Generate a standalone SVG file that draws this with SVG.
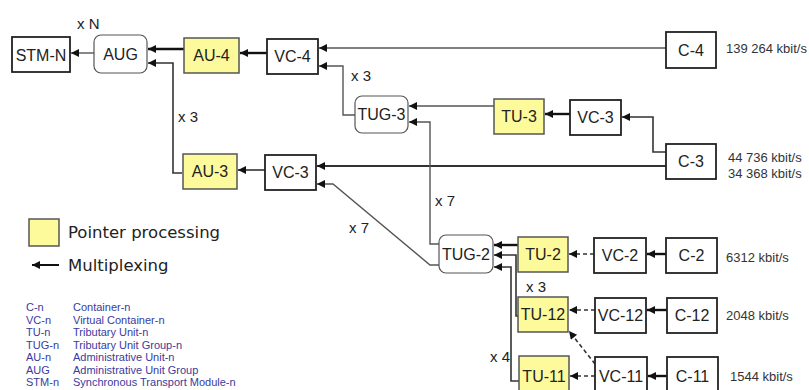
<svg xmlns="http://www.w3.org/2000/svg" width="809" height="390" viewBox="0 0 809 390">
<defs>
<marker id="ah" viewBox="0 0 10 10" refX="10" refY="5" markerWidth="10" markerHeight="8" markerUnits="userSpaceOnUse" orient="auto">
<path d="M0,0 L10,5 L0,10 z" fill="#111"/>
</marker>
</defs>
<style>
.box{fill:#fff;stroke:#222;stroke-width:1.8}
.rbox{fill:#fff;stroke:#555;stroke-width:1.2}
.ybox{fill:#fdfa9c;stroke:#555;stroke-width:1.5}
.lbl{font-family:"Liberation Sans",Arial,sans-serif;font-size:16px;fill:#222;text-anchor:middle;dominant-baseline:central}
.mul{font-family:"Liberation Sans",Arial,sans-serif;font-size:15px;fill:#222;dominant-baseline:central}
.rate{font-family:"Liberation Sans",Arial,sans-serif;font-size:13px;fill:#333;dominant-baseline:central}
.leg{font-family:"DejaVu Sans",Verdana,sans-serif;font-size:16.5px;fill:#222;dominant-baseline:central}
.abbr{font-family:"Liberation Sans",Arial,sans-serif;font-size:11px;fill:#3a3aa0;dominant-baseline:central}
.c{fill:none;stroke:#333;stroke-width:1.6;marker-end:url(#ah)}
.t{stroke:#111;stroke-width:2.4}
.g{stroke:#555;stroke-width:1.4}
.d{stroke-dasharray:4,3}
</style>
<g id="connectors">
<line class="c g" x1="94" y1="53" x2="71" y2="53"/>
<line class="c t" x1="184" y1="49" x2="148" y2="49"/>
<path class="c" d="M182,173 H173 V63 H148"/>
<line class="c t" x1="267" y1="53" x2="240" y2="53"/>
<line class="c g" x1="666" y1="48" x2="319" y2="48"/>
<path class="c g" d="M355,115 H343 V66 H319"/>
<line class="c g" x1="494" y1="106" x2="409" y2="106"/>
<line class="c t" x1="570" y1="114" x2="545" y2="114"/>
<path class="c" d="M666,152 H653 V117 H622"/>
<line class="c" x1="666" y1="166" x2="317" y2="166" style="stroke-width:2"/>
<line class="c" x1="265" y1="170" x2="238" y2="170"/>
<path class="c g" d="M440,265 H430 L333,184 H317"/>
<path class="c g" d="M440,244 H430 V122 H409"/>
<line class="c t" x1="518" y1="245" x2="494" y2="245"/>
<path class="c" d="M518,316 H516 V255 H494"/>
<path class="c" d="M519,381 H511 V267 H494"/>
<line class="c d" x1="594" y1="254" x2="569" y2="254"/>
<line class="c t" x1="666" y1="254" x2="647" y2="254"/>
<line class="c d" x1="595" y1="310" x2="569" y2="310"/>
<line class="c t" x1="667" y1="310" x2="647" y2="310"/>
<line class="c d" x1="595" y1="376" x2="570" y2="376"/>
<line class="c t" x1="667" y1="376" x2="648" y2="376"/>
<line class="c d" x1="595" y1="364" x2="569" y2="331"/>
</g>
<g id="STM-N"><rect class="box" x="12" y="37" width="58" height="35"/><text class="lbl" x="41" y="55">STM-N</text></g>
<g id="AUG"><rect class="rbox" x="94" y="35" width="53" height="38" rx="7"/><text class="lbl" x="120.5" y="54">AUG</text></g>
<g id="AU-4"><rect class="ybox" x="184" y="38" width="55" height="35"/><text class="lbl" x="211.5" y="55.5">AU-4</text></g>
<g id="VC-4"><rect class="box" x="267" y="39" width="51" height="35"/><text class="lbl" x="292.5" y="56.5">VC-4</text></g>
<g id="C-4"><rect class="box" x="666" y="32" width="50" height="36"/><text class="lbl" x="691" y="50">C-4</text></g>
<g id="TUG-3"><rect class="rbox" x="355" y="96" width="53" height="37" rx="7"/><text class="lbl" x="381.5" y="114.5">TUG-3</text></g>
<g id="TU-3"><rect class="ybox" x="494" y="99" width="50" height="35"/><text class="lbl" x="519" y="116.5">TU-3</text></g>
<g id="VC-3r"><rect class="box" x="570" y="100" width="51" height="35"/><text class="lbl" x="595.5" y="117.5">VC-3</text></g>
<g id="C-3"><rect class="box" x="666" y="144" width="50" height="35"/><text class="lbl" x="691" y="161.5">C-3</text></g>
<g id="AU-3"><rect class="ybox" x="183" y="154" width="54" height="35"/><text class="lbl" x="210" y="171.5">AU-3</text></g>
<g id="VC-3l"><rect class="box" x="265" y="155" width="51" height="35"/><text class="lbl" x="290.5" y="172.5">VC-3</text></g>
<g id="TUG-2"><rect class="rbox" x="439" y="235" width="54" height="38" rx="7"/><text class="lbl" x="466" y="254">TUG-2</text></g>
<g id="TU-2"><rect class="ybox" x="518" y="237" width="50" height="35"/><text class="lbl" x="543" y="254.5">TU-2</text></g>
<g id="VC-2"><rect class="box" x="594" y="238" width="52" height="35"/><text class="lbl" x="620" y="255.5">VC-2</text></g>
<g id="C-2"><rect class="box" x="666" y="238" width="51" height="35"/><text class="lbl" x="691.5" y="255.5">C-2</text></g>
<g id="TU-12"><rect class="ybox" x="518" y="297" width="50" height="35"/><text class="lbl" x="543" y="314.5">TU-12</text></g>
<g id="VC-12"><rect class="box" x="595" y="298" width="51" height="35"/><text class="lbl" x="620.5" y="315.5">VC-12</text></g>
<g id="C-12"><rect class="box" x="667" y="298" width="50" height="35"/><text class="lbl" x="692" y="315.5">C-12</text></g>
<g id="TU-11"><rect class="ybox" x="519" y="356" width="50" height="40"/><text class="lbl" x="544" y="376">TU-11</text></g>
<g id="VC-11"><rect class="box" x="595" y="357" width="52" height="40"/><text class="lbl" x="621" y="376">VC-11</text></g>
<g id="C-11"><rect class="box" x="667" y="357" width="51" height="40"/><text class="lbl" x="692.5" y="376">C-11</text></g>
<g id="labels">
<text class="mul" x="77" y="23">x N</text>
<text class="mul" x="351" y="75">x 3</text>
<text class="mul" x="178" y="116">x 3</text>
<text class="mul" x="435" y="200">x 7</text>
<text class="mul" x="349" y="227">x 7</text>
<text class="mul" x="526" y="286">x 3</text>
<text class="mul" x="490" y="356">x 4</text>
<text class="rate" x="726" y="48">139 264 kbit/s</text>
<text class="rate" x="728" y="157">44 736 kbit/s</text>
<text class="rate" x="728" y="173">34 368 kbit/s</text>
<text class="rate" x="726" y="257">6312 kbit/s</text>
<text class="rate" x="726" y="315">2048 kbit/s</text>
<text class="rate" x="730" y="376">1544 kbit/s</text>
</g>
<g id="legend">
<rect class="ybox" x="29" y="219" width="30" height="27"/>
<text class="leg" x="68" y="232">Pointer processing</text>
<line class="c" x1="59" y1="265" x2="32" y2="265" style="stroke:#111;stroke-width:2"/>
<text class="leg" x="68" y="265">Multiplexing</text>
<text class="abbr" x="26" y="307">C-n</text><text class="abbr" x="73" y="307">Container-n</text>
<text class="abbr" x="26" y="319.5">VC-n</text><text class="abbr" x="73" y="319.5">Virtual Container-n</text>
<text class="abbr" x="26" y="332">TU-n</text><text class="abbr" x="73" y="332">Tributary Unit-n</text>
<text class="abbr" x="26" y="344.5">TUG-n</text><text class="abbr" x="73" y="344.5">Tributary Unit Group-n</text>
<text class="abbr" x="26" y="357">AU-n</text><text class="abbr" x="73" y="357">Administrative Unit-n</text>
<text class="abbr" x="26" y="369.5">AUG</text><text class="abbr" x="73" y="369.5">Administrative Unit Group</text>
<text class="abbr" x="26" y="382">STM-n</text><text class="abbr" x="73" y="382">Synchronous Transport Module-n</text>
</g>
</svg>
